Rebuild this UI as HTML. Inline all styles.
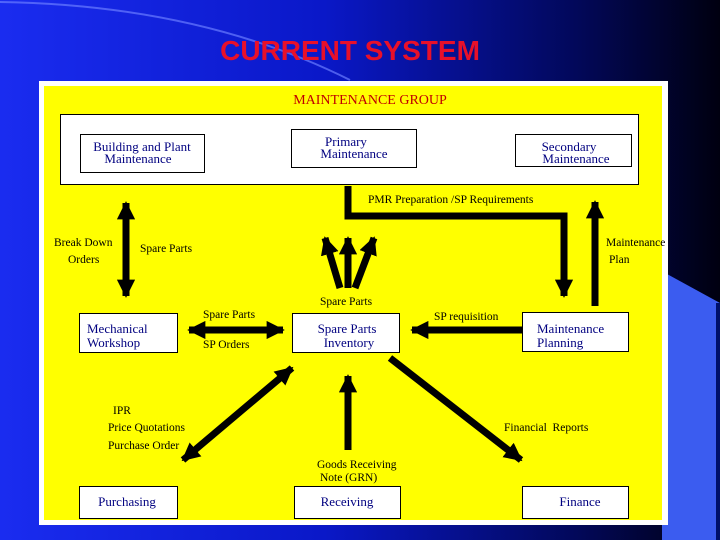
<!DOCTYPE html>
<html><head><meta charset="utf-8"><style>
html,body{margin:0;padding:0;width:720px;height:540px;overflow:hidden}
svg{display:block}
text{font-family:"Liberation Serif",serif}
</style></head><body>
<svg width="720" height="540" viewBox="0 0 720 540" xmlns="http://www.w3.org/2000/svg">
<defs>
<linearGradient id="bg" x1="0" y1="0" x2="1" y2="0">
<stop offset="0" stop-color="#1a2cf0"/><stop offset="0.45" stop-color="#0a18c8"/><stop offset="0.8" stop-color="#02085a"/><stop offset="1" stop-color="#000010"/>
</linearGradient>
<marker id="ah" viewBox="0 0 10 10" refX="9" refY="5" markerWidth="2.6" markerHeight="2.6" orient="auto-start-reverse" markerUnits="strokeWidth">
<path d="M0,0 L10,5 L0,10 z" fill="#000"/></marker>
</defs>
<rect width="720" height="540" fill="url(#bg)"/>
<path d="M0,2 Q200,5 350,80" stroke="#6a7cff" stroke-width="2" fill="none" opacity="0.7"/>
<polygon points="667,274 720,303 720,540 662,540 662,274" fill="#3b5cf0"/>
<rect x="716" y="303" width="4" height="237" fill="#00106a"/>
<text x="350" y="60" text-anchor="middle" font-family="Liberation Sans,sans-serif" font-weight="bold" font-size="28" fill="#e8102a" style="font-family:'Liberation Sans',sans-serif">CURRENT SYSTEM</text>
<rect x="39" y="81" width="629" height="444" fill="#fff"/>
<rect x="44" y="86" width="618" height="434" fill="#ffff00"/>
<text x="370" y="104" text-anchor="middle" font-size="14" fill="#c00000">MAINTENANCE GROUP</text>
<g fill="#fff" stroke="#000" stroke-width="1">
<rect x="60.5" y="114.5" width="578" height="70"/>
<rect x="80.5" y="134.5" width="124" height="38"/>
<rect x="291.5" y="129.5" width="125" height="38"/>
<rect x="515.5" y="134.5" width="116" height="32"/>
<rect x="79.5" y="313.5" width="98" height="39"/>
<rect x="292.5" y="313.5" width="107" height="39"/>
<rect x="522.5" y="312.5" width="106" height="39"/>
<rect x="79.5" y="486.5" width="98" height="32"/>
<rect x="294.5" y="486.5" width="106" height="32"/>
<rect x="522.5" y="486.5" width="106" height="32"/>
</g>
<g fill="#000080" font-size="13">
<text x="142" y="151" text-anchor="middle">Building and Plant</text>
<text x="138" y="163" text-anchor="middle">Maintenance</text>
<text x="346" y="146" text-anchor="middle">Primary</text>
<text x="354" y="158" text-anchor="middle">Maintenance</text>
<text x="569" y="151" text-anchor="middle">Secondary</text>
<text x="576" y="163" text-anchor="middle">Maintenance</text>
<text x="87" y="333">Mechanical</text>
<text x="87" y="347">Workshop</text>
<text x="347" y="333" text-anchor="middle">Spare Parts</text>
<text x="349" y="347" text-anchor="middle">Inventory</text>
<text x="537" y="333">Maintenance</text>
<text x="537" y="347">Planning</text>
<text x="127" y="506" text-anchor="middle">Purchasing</text>
<text x="347" y="506" text-anchor="middle">Receiving</text>
<text x="580" y="506" text-anchor="middle">Finance</text>
</g>
<g fill="#000" font-size="11.5">
<text x="368" y="203">PMR Preparation /SP Requirements</text>
<text x="54" y="246">Break Down</text>
<text x="68" y="263">Orders</text>
<text x="140" y="252">Spare Parts</text>
<text x="606" y="246">Maintenance</text>
<text x="609" y="263">Plan</text>
<text x="320" y="305">Spare Parts</text>
<text x="203" y="318">Spare Parts</text>
<text x="203" y="348">SP Orders</text>
<text x="434" y="320">SP requisition</text>
<text x="113" y="414">IPR</text>
<text x="108" y="431">Price Quotations</text>
<text x="108" y="449">Purchase Order</text>
<text x="504" y="431">Financial&#160; Reports</text>
<text x="317" y="468">Goods Receiving</text>
<text x="320" y="481">Note (GRN)</text>
</g>
<g stroke="#000" stroke-width="7" fill="none">
<line x1="126" y1="203" x2="126" y2="296" marker-start="url(#ah)" marker-end="url(#ah)"/>
<polyline points="348,186 348,216 564,216 564,296" marker-end="url(#ah)"/>
<line x1="595" y1="306" x2="595" y2="202" marker-end="url(#ah)"/>
<line x1="340" y1="288" x2="325" y2="238" marker-end="url(#ah)"/>
<line x1="348" y1="288" x2="348" y2="238" marker-end="url(#ah)"/>
<line x1="355" y1="288" x2="374" y2="238" marker-end="url(#ah)"/>
<line x1="189" y1="330" x2="283" y2="330" marker-start="url(#ah)" marker-end="url(#ah)"/>
<line x1="522" y1="330" x2="412" y2="330" marker-end="url(#ah)"/>
<line x1="292" y1="368" x2="183" y2="460" marker-start="url(#ah)" marker-end="url(#ah)"/>
<line x1="348" y1="450" x2="348" y2="376" marker-end="url(#ah)"/>
<line x1="390" y1="358" x2="521" y2="460" marker-end="url(#ah)"/>
</g>
</svg>
</body></html>
